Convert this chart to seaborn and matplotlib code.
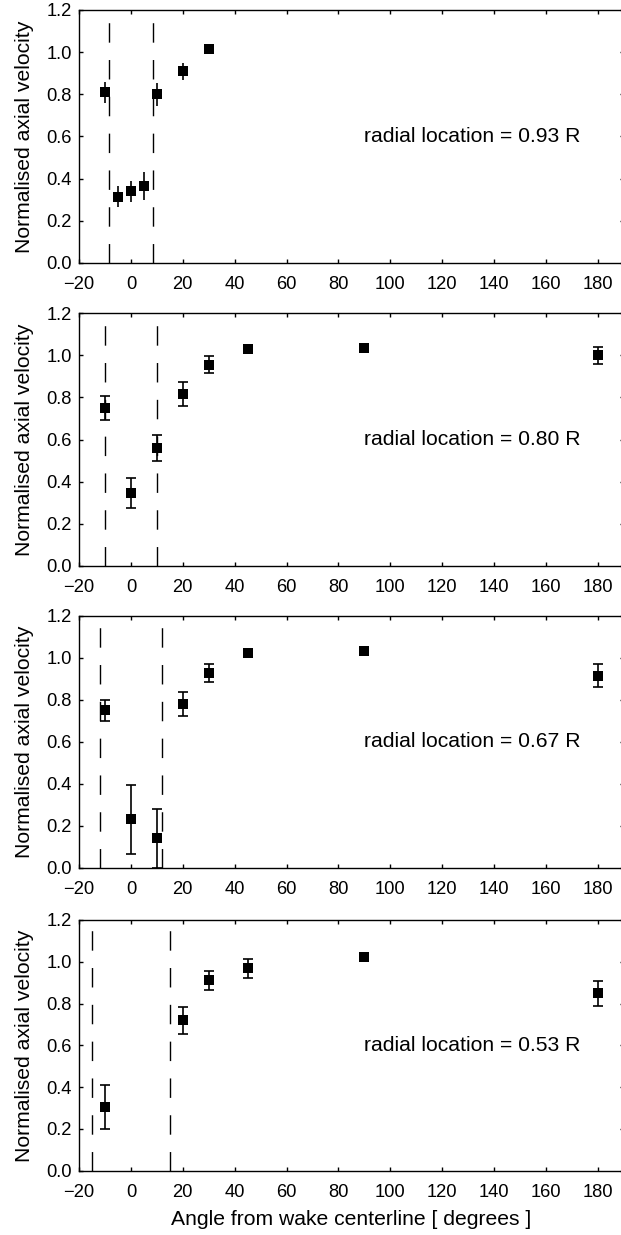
import numpy as np
import pandas as pd
import matplotlib
matplotlib.use("Agg")
import matplotlib.pyplot as plt
import seaborn as sns

# ---------------- data ----------------
labels = ["0.93", "0.80", "0.67", "0.53"]

x1 = [-10, -5, 0, 5, 10, 20, 30]
y1 = [0.81, 0.315, 0.34, 0.365, 0.80, 0.91, 1.015]
e1 = [0.05, 0.05, 0.05, 0.065, 0.055, 0.04, 0.02]
w1 = [-8.5, 8.5]

x2 = [-10, 0, 10, 20, 30, 45, 90, 180]
y2 = [0.75, 0.345, 0.56, 0.815, 0.955, 1.03, 1.035, 1.0]
e2 = [0.056, 0.07, 0.06, 0.058, 0.04, 0.01, 0.01, 0.04]
w2 = [-10, 10]

x3 = [-10, 0, 10, 20, 30, 45, 90, 180]
y3 = [0.75, 0.23, 0.14, 0.78, 0.93, 1.025, 1.035, 0.915]
e3 = [0.05, 0.165, 0.14, 0.058, 0.043, 0.01, 0.01, 0.055]
w3 = [-12, 12]

x4 = [-10, 20, 30, 45, 90, 180]
y4 = [0.305, 0.72, 0.912, 0.968, 1.024, 0.85]
e4 = [0.105, 0.065, 0.045, 0.045, 0.02, 0.06]
w4 = [-15, 15]

xticks = [-20, 0, 20, 40, 60, 80, 100, 120, 140, 160, 180]
yticks = [0.0, 0.2, 0.4, 0.6, 0.8, 1.0, 1.2]

panels = [(x1, y1, e1, w1, 0), (x2, y2, e2, w2, 3.6),
          (x3, y3, e3, w3, 3.6), (x4, y4, e4, w4, 3.6)]

# ---------------- style ----------------
sns.set_theme(style="ticks")
plt.rcParams['font.family'] = ['Liberation Sans', 'DejaVu Sans']
plt.rcParams['axes.linewidth'] = 1.0
plt.rcParams['xtick.direction'] = 'in'
plt.rcParams['ytick.direction'] = 'in'

TICK_FS = 13.2
LABEL_FS = 15.2

fig = plt.figure(figsize=(6.21, 12.35), dpi=100)
W, H = 621, 1235
boxes = [(10, 263), (313.3, 565.7), (616, 867.7), (920, 1170.7)]
left_px, right_px = 79, 623.7

for i, ((xs, ys, es, ws, cap), (t, b)) in enumerate(zip(panels, boxes)):
    ax = fig.add_axes([left_px / W, 1 - b / H, (right_px - left_px) / W, (b - t) / H])
    df = pd.DataFrame({"angle": xs, "vel": ys, "err": es})
    for wx in ws:
        ax.axvline(wx, color='black', lw=1.0, dashes=(14, 12.5), zorder=1)
    ax.errorbar(df["angle"], df["vel"], yerr=df["err"], fmt='none',
                ecolor='black', elinewidth=1.2, capsize=cap, capthick=1.2, zorder=2)
    sns.scatterplot(data=df, x="angle", y="vel", marker='s', color='black',
                    s=52, edgecolor='black', linewidth=0, ax=ax, zorder=3)
    ax.set_xlim(-20, 190)
    ax.set_ylim(0, 1.2)
    ax.set_xticks(xticks)
    ax.set_yticks(yticks)
    ax.set_yticklabels([f"{v:.1f}" for v in yticks])
    ax.tick_params(axis='both', which='both', direction='in', top=True, right=True,
                   length=3, width=1.0, labelsize=TICK_FS, color='black', labelcolor='black')
    ax.tick_params(axis='x', pad=9.5)
    ax.tick_params(axis='y', pad=5)
    for s in ax.spines.values():
        s.set_visible(True)
        s.set_color('black')
        s.set_linewidth(1.0)
    ax.set_ylabel("Normalised axial velocity", fontsize=LABEL_FS, labelpad=9, color='black')
    if i == 3:
        ax.set_xlabel("Angle from wake centerline [ degrees ]", fontsize=LABEL_FS,
                      labelpad=6.5, color='black')
    else:
        ax.set_xlabel("")
    ax.text(90, 0.6, f"radial location = {labels[i]} R", fontsize=LABEL_FS,
            ha='left', va='center', color='black')

fig.savefig("out.png", dpi=100)
